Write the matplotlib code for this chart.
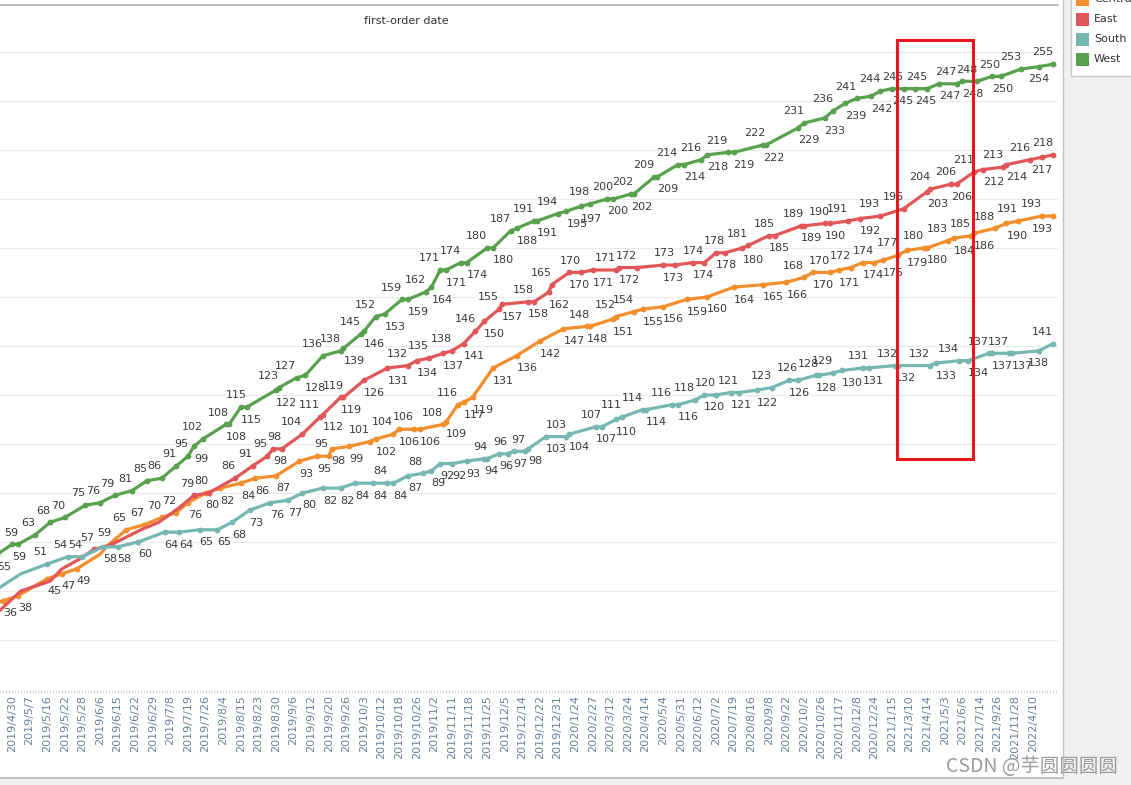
import matplotlib
matplotlib.use("Agg")
import matplotlib.pyplot as plt
from matplotlib.patches import Rectangle
from matplotlib.lines import Line2D

W, H = 1131, 785

# ---------------- data ----------------
tick_dates = ["2019/4/30", "2019/5/7", "2019/5/16", "2019/5/22", "2019/5/28", "2019/6/6",
              "2019/6/15", "2019/6/22", "2019/6/29", "2019/7/8", "2019/7/19", "2019/7/26",
              "2019/8/4", "2019/8/15", "2019/8/23", "2019/8/30", "2019/9/6", "2019/9/12",
              "2019/9/20", "2019/9/26", "2019/10/3", "2019/10/12", "2019/10/18", "2019/10/26",
              "2019/11/2", "2019/11/11", "2019/11/18", "2019/11/25", "2019/12/5", "2019/12/14",
              "2019/12/22", "2019/12/31", "2020/1/24", "2020/2/27", "2020/3/12", "2020/3/24",
              "2020/4/14", "2020/5/4", "2020/5/31", "2020/6/12", "2020/7/2", "2020/7/19",
              "2020/8/16", "2020/9/8", "2020/9/22", "2020/10/2", "2020/10/26", "2020/11/17",
              "2020/12/8", "2020/12/24", "2021/1/15", "2021/3/10", "2021/4/14", "2021/5/3",
              "2021/6/6", "2021/7/14", "2021/9/26", "2021/11/28", "2022/4/10"]
cats_per_tick = 6          # one date label is shown for every 6 first-order dates

series_names = ["Central", "East", "South", "West"]
series_colors = ["#F28E2B", "#E15759", "#76B7B2", "#59A14F"]

# category index (first-order date position), cumulative customers, label side (a=above, b=below, _=none)
central_cat = [-6, -3, 2, 12, 17, 22, 30, 33, 39, 45,
               51, 56, 60, 66, 71, 78, 83, 90, 98, 104,
               108, 109, 115, 122, 124, 130, 132, 137, 139, 147,
               148, 152, 154, 157, 164, 172, 180, 188, 196, 197,
               205, 206, 212, 215, 222, 230, 237, 246, 256, 264,
               270, 273, 279, 282, 286, 290, 294, 297, 302, 305,
               311, 312, 319, 321, 327, 328, 335, 339, 343, 351, 355]
central_val = [35, 36, 38, 45, 47, 49, 55, 59, 65, 67,
               70, 72, 76, 80, 82, 84, 86, 87, 93, 95,
               95, 98, 99, 101, 102, 104, 106, 106, 106, 108,
               109, 116, 117, 119, 131, 136, 142, 147, 148, 148,
               151, 152, 154, 155, 156, 159, 160, 164, 165, 166,
               168, 170, 170, 171, 172, 174, 174, 175, 177, 179,
               180, 180, 183, 184, 185, 186, 188, 190, 191, 193, 193]
central_lbl = ("_bbbbb__aa" "aabbbbbbbb" "abbabababa" "babbbbbbba" "baabbbbbbb"
               "ababababab" "ababababaab")

east_cat = [-6, 3, 13, 17, 23, 28, 34, 44, 50, 57,
            62, 67, 76, 82, 87, 89, 92, 99, 105, 106,
            112, 113, 120, 128, 135, 138, 142, 147, 150, 154,
            158, 161, 166, 167, 176, 178, 183, 184, 190, 194,
            198, 206, 207, 213, 222, 226, 232, 236, 240, 243,
            249, 251, 258, 260, 269, 270, 277, 279, 285, 289,
            296, 304, 312, 313, 320, 322, 328, 331, 338, 339,
            347, 351, 355]
east_val = [30, 40, 44, 49, 53, 57, 59, 65, 68, 74,
            79, 80, 86, 91, 95, 98, 98, 104, 111, 112,
            119, 119, 126, 131, 132, 134, 135, 137, 138, 141,
            146, 150, 155, 157, 158, 158, 162, 165, 170, 170,
            171, 171, 172, 172, 173, 173, 174, 174, 178, 178,
            180, 181, 185, 185, 189, 189, 190, 190, 191, 192,
            193, 196, 203, 204, 206, 206, 211, 212, 213, 214,
            216, 217, 218]
east_lbl = ("_____aa___" "aaaaabaaab" "babbababab" "ababbababa" "bababababa"
            "babababaab" "aababaabab" "aba")

south_cat = [-6, 3, 12, 19, 24, 31, 36, 43, 52, 57,
             64, 70, 75, 81, 88, 94, 99, 106, 112, 117,
             123, 128, 130, 135, 140, 143, 146, 150, 155, 161,
             162, 166, 169, 171, 175, 176, 182, 189, 190, 199,
             201, 206, 208, 215, 216, 225, 227, 233, 236, 240,
             245, 248, 254, 259, 265, 268, 274, 275, 280, 283,
             290, 292, 301, 302, 313, 315, 323, 326, 333, 334,
             340, 341, 350, 355]
south_val = [40, 47, 51, 54, 54, 58, 58, 60, 64, 64,
             65, 65, 68, 73, 76, 77, 80, 82, 82, 84,
             84, 84, 84, 87, 88, 89, 92, 92, 93, 94,
             94, 96, 96, 97, 97, 98, 103, 103, 104, 107,
             107, 110, 111, 114, 114, 116, 116, 118, 120, 120,
             121, 121, 122, 123, 126, 126, 128, 128, 129, 130,
             131, 131, 132, 132, 132, 133, 134, 134, 137, 137,
             137, 137, 138, 141]
south_lbl = ("__aaabbbbb" "bbbbbbbbbb" "babbabbbbb" "abababbabb" "abaabababa"
             "babababaab" "babaababab" "abba")

west_cat = [-9, -5, 0, 2, 8, 13, 18, 25, 30, 35,
            41, 46, 51, 56, 60, 62, 65, 73, 74, 78,
            80, 90, 91, 97, 100, 106, 112, 113, 119, 120,
            124, 127, 133, 135, 141, 143, 146, 148, 153, 155,
            162, 164, 170, 172, 178, 179, 186, 189, 194, 197,
            203, 205, 211, 212, 219, 220, 227, 229, 235, 237,
            244, 246, 256, 257, 268, 270, 277, 280, 284, 288,
            293, 296, 300, 304, 308, 312, 316, 322, 324, 329,
            334, 337, 344, 350, 355]
west_val = [52, 55, 59, 59, 63, 68, 70, 75, 76, 79,
            81, 85, 86, 91, 95, 99, 102, 108, 108, 115,
            115, 122, 123, 127, 128, 136, 138, 139, 145, 146,
            152, 153, 159, 159, 162, 164, 171, 171, 174, 174,
            180, 180, 187, 188, 191, 191, 194, 195, 197, 198,
            200, 200, 202, 202, 209, 209, 214, 214, 216, 218,
            219, 219, 222, 222, 229, 231, 233, 236, 239, 241,
            242, 244, 245, 245, 245, 245, 247, 247, 248, 248,
            250, 250, 253, 254, 255]
west_lbl = ("_bbaaaaaaa" "aaaaababab" "abaabaabab" "ababababab" "ababababba"
            "babaababab" "abbabababa" "bababababa" "baaba")

# highlighted window (red box): category span and value span
highlight_cats = (301.7, 327.6)
highlight_vals = (94, 265)

header_title = "first-order date"
watermark = "CSDN @芋圆圆圆圆"

# ---------------- drawing ----------------
def fx(px):
    return px / W


def fy(py):
    return 1 - py / H


fig = plt.figure(figsize=(W / 100, H / 100), dpi=100)
fig.patch.set_facecolor("white")

# grey surroundings (right panel, bottom band)
fig.add_artist(Rectangle((fx(1063), 0), 1 - fx(1063), 1, transform=fig.transFigure,
                         facecolor="#f0f0f0", edgecolor="none", zorder=0))
fig.add_artist(Rectangle((0, 0), 1, fy(778), transform=fig.transFigure,
                         facecolor="#f0f0f0", edgecolor="none", zorder=0))
fig.add_artist(Line2D([0, fx(1063)], [fy(778), fy(778)], transform=fig.transFigure,
                      color="#b8b8b8", lw=1.2, zorder=1))
fig.add_artist(Line2D([fx(1063), fx(1063)], [fy(778), 1], transform=fig.transFigure,
                      color="#c4c4c4", lw=1.0, zorder=1))
fig.add_artist(Line2D([0, fx(1058)], [fy(5), fy(5)], transform=fig.transFigure,
                      color="#b0b0b0", lw=1.2, zorder=1))

fig.text(fx(406), fy(21), header_title, ha="center", va="center", fontsize=8, color="#333333")

ax = fig.add_axes([0, fy(690), fx(1058), fy(36) - fy(690)])
ax.set_facecolor("white")
ax.set_xlim(-4.09, 356.6)
ax.set_ylim(-0.41, 266.5)
for s in ax.spines.values():
    s.set_visible(False)

ax.set_yticks(range(20, 261, 20))
ax.yaxis.grid(True, color="#ebebeb", lw=0.8)
ax.set_axisbelow(True)
ax.tick_params(axis="y", length=0, labelleft=False)

n_cats = len(tick_dates) * cats_per_tick
ax.set_xticks([i * cats_per_tick for i in range(len(tick_dates))])
ax.set_xticklabels(tick_dates, rotation=90, fontsize=8, color="#6d7f99")
ax.set_xticks(range(-4, 357), minor=True)
ax.tick_params(axis="x", which="both", length=2, width=0.8, color="#dadada", pad=1.5)

series = [
    (central_cat, central_val, central_lbl),
    (east_cat, east_val, east_lbl),
    (south_cat, south_val, south_lbl),
    (west_cat, west_val, west_lbl),
]

for k, ((cats, vals, lbls), color) in enumerate(zip(series, series_colors)):
    z = 3 + k
    ax.plot(cats, vals, color=color, lw=2.3, zorder=z,
            solid_joinstyle="round", solid_capstyle="round")
    mx = [c for c, l in zip(cats, lbls) if l != "_"]
    my = [v for v, l in zip(vals, lbls) if l != "_"]
    ax.plot(mx, my, "o", ms=4.2, color=color, mec="none", zorder=z)
    last = max(cats)
    for c, v, l in zip(cats, vals, lbls):
        if l == "_":
            continue
        if l == "a":
            ha, dy = "right", 8.5
        else:
            ha, dy = "left", -9.0
        if c == last:
            ha = "right"
        elif l == "b" and c >= 349:
            ha = "center"
        ax.annotate(str(v), (c, v), xytext=(0, dy), textcoords="offset points",
                    ha=ha, va="center", fontsize=8, color="#3a3a3a",
                    annotation_clip=False, zorder=12)

ax.add_patch(Rectangle((highlight_cats[0], highlight_vals[0]),
                       highlight_cats[1] - highlight_cats[0],
                       highlight_vals[1] - highlight_vals[0],
                       fill=False, edgecolor="#e8161e", lw=2.2, zorder=20, clip_on=False))

# legend panel
fig.add_artist(Rectangle((fx(1071), fy(76)), 1 - fx(1071) + 0.01, fy(-10) - fy(76),
                         transform=fig.transFigure, facecolor="white",
                         edgecolor="#c8c8c8", lw=1.0, zorder=2))
for i, (name, color) in enumerate(zip(series_names, series_colors)):
    cy = -1 + 20 * i
    fig.add_artist(Rectangle((fx(1076), fy(cy + 7)), fx(13), 13 / H,
                             transform=fig.transFigure, facecolor=color,
                             edgecolor="none", zorder=3))
    fig.text(fx(1094), fy(cy), name, ha="left", va="center", fontsize=8,
             color="#333333", zorder=4)

fig.text(fx(1032), fy(767), watermark, ha="center", va="center", fontsize=14,
         color="#9c9c9c", family=["Noto Sans CJK SC", "DejaVu Sans"], zorder=30)

fig.savefig("out.png", dpi=100)
